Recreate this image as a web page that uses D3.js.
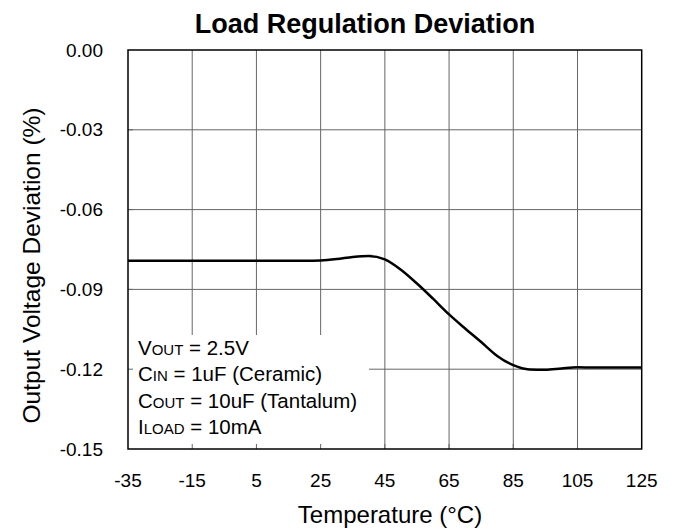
<!DOCTYPE html>
<html><head><meta charset="utf-8">
<script src="https://cdn.jsdelivr.net/npm/d3@7"></script>
<style>body{margin:0;background:#fff}svg{display:block}text{font-family:"Liberation Sans",Arial,sans-serif}</style>
</head><body>
<script>
const temps = [-35,-30,-25,-20,-15,-10,-5,0,5,10,15,20,25,30,35,40,45,50,55,60,65,70,75,80,85,90,95,100,105,110,115,120,125];
const deviation = [-0.0792,-0.0792,-0.0792,-0.0792,-0.0792,-0.0792,-0.0792,-0.0792,-0.0792,-0.0792,-0.0792,-0.0792,-0.0791,-0.0786,-0.0778,-0.0774,-0.0787,-0.0826,-0.0878,-0.0935,-0.0994,-0.1047,-0.1098,-0.1150,-0.1185,-0.1201,-0.1202,-0.1197,-0.1193,-0.1194,-0.1194,-0.1194,-0.1194];
const xTicks = [-35,-15,5,25,45,65,85,105,125];
const yTicks = [0,-0.03,-0.06,-0.09,-0.12,-0.15];
const legendLines = [["V","OUT"," = 2.5V"],["C","IN"," = 1uF (Ceramic)"],["C","OUT"," = 10uF (Tantalum)"],["I","LOAD"," = 10mA"]];

const W=676,H=529;
const m={l:128,t:50,r:676-641.7,b:529-449};
const svg=d3.select("body").append("svg").attr("width",W).attr("height",H);
const x=d3.scaleLinear().domain([-35,125]).range([m.l,W-m.r]);
const y=d3.scaleLinear().domain([-0.15,0]).range([H-m.b,m.t]);

// grid
const g=svg.append("g");
g.selectAll("line.v").data(xTicks.slice(1,-1)).join("line")
 .attr("x1",d=>x(d)).attr("x2",d=>x(d)).attr("y1",y(0)).attr("y2",y(-0.15))
 .attr("stroke","#666").attr("stroke-width",1);
g.selectAll("line.h").data(yTicks.slice(1,-1)).join("line")
 .attr("x1",x(-35)).attr("x2",x(125)).attr("y1",d=>y(d)).attr("y2",d=>y(d))
 .attr("stroke","#666").attr("stroke-width",1);

// curve
const line=d3.line().x((d,i)=>x(temps[i])).y(d=>y(d)).curve(d3.curveMonotoneX);
svg.append("path").datum(deviation).attr("d",line).attr("fill","none").attr("stroke","#000").attr("stroke-width",2.5);

// legend box (white, covers grid)
const bx0=x(-35), bx1=369, by0=335, by1=y(-0.15);
svg.append("rect").attr("x",bx0).attr("y",by0).attr("width",bx1-bx0).attr("height",by1-by0).attr("fill","#fff");
// inner ticks
svg.selectAll("line.bt").data(xTicks.slice(1,-1)).join("line")
 .attr("x1",d=>x(d)).attr("x2",d=>x(d)).attr("y1",y(-0.15)).attr("y2",y(-0.15)-5).attr("stroke","#666");
svg.selectAll("line.lt").data(yTicks.slice(1,-1)).join("line")
 .attr("x1",x(-35)).attr("x2",x(-35)+5).attr("y1",d=>y(d)).attr("y2",d=>y(d)).attr("stroke","#666");

// frame
svg.append("rect").attr("x",x(-35)).attr("y",y(0)).attr("width",x(125)-x(-35)).attr("height",y(-0.15)-y(0))
 .attr("fill","none").attr("stroke","#000").attr("stroke-width",1.5);

// axes labels
svg.selectAll("text.yt").data(yTicks).join("text")
 .attr("x",103).attr("y",d=>y(d)).attr("dy","0.35em").attr("text-anchor","end")
 .attr("font-size",19).text(d=>d3.format(".2f")(d).replace("−","-"));
svg.selectAll("text.xt").data(xTicks).join("text")
 .attr("x",d=>x(d)).attr("y",487).attr("text-anchor","middle")
 .attr("font-size",19).text(d=>d);

svg.append("text").attr("x",365).attr("y",33).attr("text-anchor","middle")
 .attr("font-size",27).attr("font-weight","bold").text("Load Regulation Deviation");
svg.append("text").attr("x",390).attr("y",523).attr("text-anchor","middle")
 .attr("font-size",24).text("Temperature (°C)");
svg.append("text").attr("transform","translate(40,265.5) rotate(-90)").attr("text-anchor","middle")
 .attr("font-size",24.5).text("Output Voltage Deviation (%)");

// legend text
const lg=svg.append("g");
const baselines=[354.5,381,407.5,434];
legendLines.forEach((l,i)=>{
  const t=lg.append("text").attr("x",138).attr("y",baselines[i]).attr("font-size",20.5);
  t.append("tspan").text(l[0]);
  t.append("tspan").attr("font-size",15).text(l[1]);
  t.append("tspan").text(l[2]);
});
</script>
</body></html>
